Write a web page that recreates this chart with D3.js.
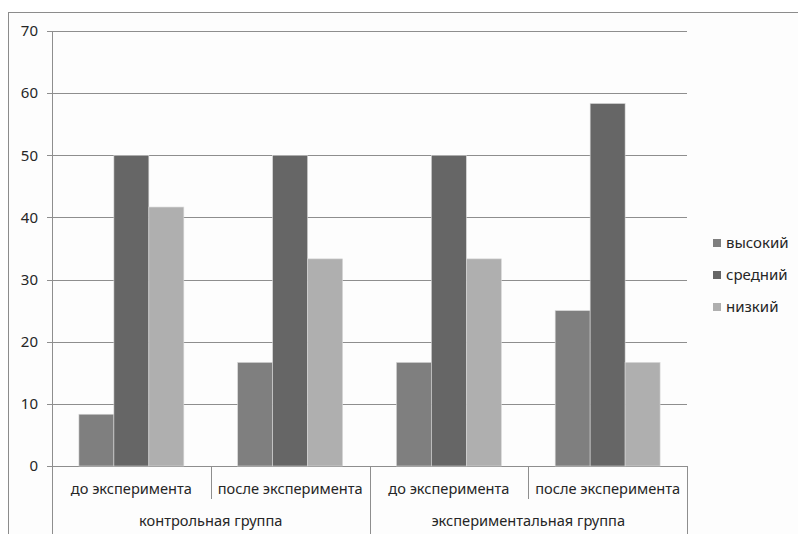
<!DOCTYPE html>
<html>
<head>
<meta charset="utf-8">
<script src="https://cdn.jsdelivr.net/npm/d3@7"></script>
<style>
  html, body { margin: 0; padding: 0; background: #ffffff; }
  svg { display: block; font-family: "Noto Sans", "Open Sans", sans-serif; }
</style>
</head>
<body>
<svg id="chart" width="798" height="534"></svg>
<script>
// Chart data
const groups = ["контрольная группа", "экспериментальная группа"];
const stages = ["до эксперимента", "после эксперимента"];
const seriesNames = ["высокий", "средний", "низкий"];
const seriesColors = ["#7f7f7f", "#666666", "#afafaf"];
// values per series, in order: [group1 stage1, group1 stage2, group2 stage1, group2 stage2]
const highValues = [8.33, 16.67, 16.67, 25];
const midValues = [50, 50, 50, 58.33];
const lowValues = [41.67, 33.33, 33.33, 16.67];
const yTicks = [0, 10, 20, 30, 40, 50, 60, 70];

const seriesValues = [highValues, midValues, lowValues];
const categories = [];
groups.forEach(g => stages.forEach(s => categories.push({ group: g, stage: s, key: g + "|" + s })));

const svg = d3.select("#chart");
const W = 798, H = 534;
const plotLeft = 52, plotRight = 687, plotTop = 31, plotBottom = 466;
const textColor = "#262626";

// outer chart border
svg.append("rect")
  .attr("x", 8.5).attr("y", 12.5)
  .attr("width", W).attr("height", H)
  .attr("fill", "#fdfdfd").attr("stroke", "#8c8c8c").attr("stroke-width", 1);

const y = d3.scaleLinear().domain([0, 70]).range([plotBottom, plotTop]);
const x0 = d3.scaleBand().domain(categories.map(c => c.key)).range([plotLeft, plotRight]).paddingInner(0).paddingOuter(0);
const bw = x0.bandwidth();
const x1 = d3.scaleBand().domain(seriesNames).range([0, bw]).paddingOuter(0.77).paddingInner(0);

// horizontal gridlines
svg.append("g").selectAll("line").data(yTicks).join("line")
  .attr("x1", plotLeft - 5).attr("x2", plotRight)
  .attr("y1", d => Math.round(y(d)) + 0.5).attr("y2", d => Math.round(y(d)) + 0.5)
  .attr("stroke", "#8e8e8e").attr("stroke-width", 1);

// y axis line
svg.append("line")
  .attr("x1", plotLeft + 0.5).attr("x2", plotLeft + 0.5)
  .attr("y1", plotTop).attr("y2", H)
  .attr("stroke", "#8e8e8e");

// y tick labels
svg.append("g").selectAll("text").data(yTicks).join("text")
  .attr("x", 38).attr("y", d => y(d))
  .attr("dy", "0.35em").attr("text-anchor", "end")
  .attr("font-size", 15).attr("fill", textColor)
  .text(d => d);

// bars
const barData = [];
categories.forEach((c, ci) => {
  seriesNames.forEach((s, si) => {
    barData.push({ cat: c.key, series: s, value: seriesValues[si][ci], color: seriesColors[si] });
  });
});
svg.append("g").selectAll("rect").data(barData).join("rect")
  .attr("x", d => x0(d.cat) + x1(d.series))
  .attr("y", d => y(d.value))
  .attr("width", x1.bandwidth())
  .attr("height", d => plotBottom - y(d.value))
  .attr("fill", d => d.color)
  .attr("stroke", "#d8d8d8").attr("stroke-width", 0.6);

// category axis: dividers
const boundaries = d3.range(categories.length + 1).map(i => plotLeft + i * bw);
svg.append("g").selectAll("line").data(boundaries).join("line")
  .attr("x1", d => Math.round(d) + 0.5).attr("x2", d => Math.round(d) + 0.5)
  .attr("y1", plotBottom)
  .attr("y2", (d, i) => (i % 2 === 1) ? 499 : H)
  .attr("stroke", "#8e8e8e");

// stage labels
svg.append("g").selectAll("text").data(categories).join("text")
  .attr("x", d => x0(d.key) + bw / 2).attr("y", 489)
  .attr("dy", "0.35em").attr("text-anchor", "middle")
  .attr("font-size", 14.6).attr("fill", textColor)
  .text(d => d.stage);

// group labels
svg.append("g").selectAll("text").data(groups).join("text")
  .attr("x", (d, i) => plotLeft + (i * 2 + 1) * bw).attr("y", 521)
  .attr("dy", "0.35em").attr("text-anchor", "middle")
  .attr("font-size", 14.6).attr("fill", textColor)
  .text(d => d);

// legend
const legend = svg.append("g").selectAll("g").data(seriesNames).join("g")
  .attr("transform", (d, i) => `translate(713, ${243 + i * 32})`);
legend.append("rect")
  .attr("x", 0).attr("y", -4).attr("width", 8).attr("height", 8)
  .attr("fill", (d, i) => seriesColors[i]);
legend.append("text")
  .attr("x", 13).attr("y", 0).attr("dy", "0.35em")
  .attr("font-size", 15).attr("fill", textColor)
  .text(d => d);
</script>
</body>
</html>
